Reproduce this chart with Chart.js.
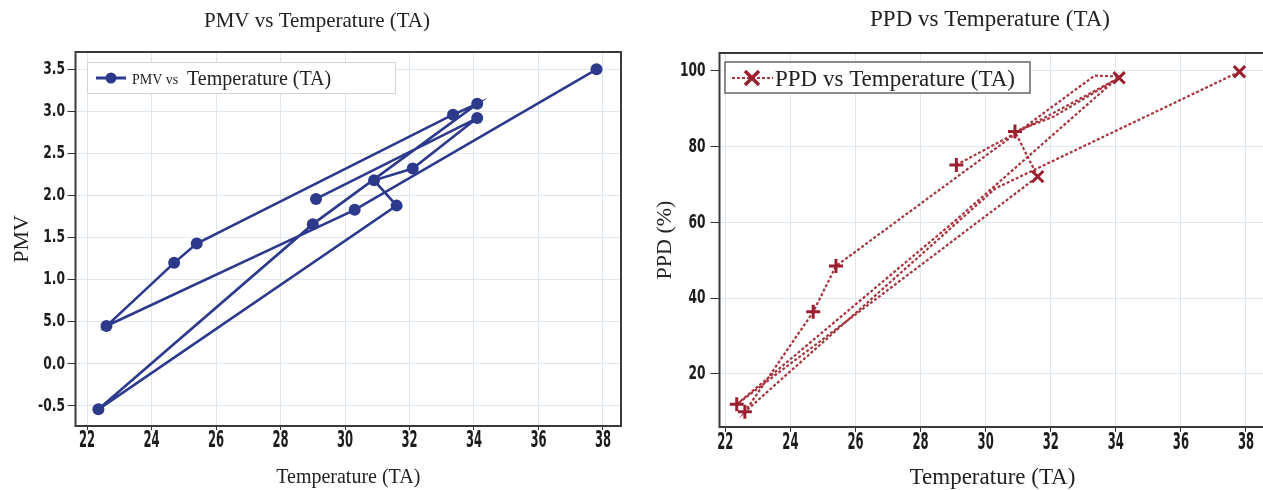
<!DOCTYPE html>
<html>
<head>
<meta charset="utf-8">
<script src="https://cdn.jsdelivr.net/npm/chart.js@4.4.1/dist/chart.umd.min.js"></script>
<style>
html, body { margin: 0; padding: 0; background: #fff; overflow: hidden; width: 1263px; height: 490px; }
#left { position: absolute; left: 0; top: 0; width: 640px; height: 490px; }
#right { position: absolute; left: 640px; top: 0; width: 700px; height: 490px; }
</style>
</head>
<body>
<div id="left"><canvas id="pmvChart"></canvas></div>
<div id="right"><canvas id="ppdChart"></canvas></div>
<script>
// values, in plotted order
const temps = [37.8, 30.3, 22.6, 24.7, 25.4, 33.35, 34.1, 29.0, 22.35, 31.6, 30.9, 32.1, 34.1, 29.1]
const pmv   = [3.5, 1.83, 0.45, 1.20, 1.43, 2.96, 3.09, 1.66, -0.54, 1.88, 2.18, 2.32, 2.92, 1.96]
const ppd   = [99.8, 69, 10, 36.4, 48.5, 98.8, 98.5, 60, 12, 72.1, 84, 88, 98.2, 75.2]

const tempTicks = [22, 24, 26, 28, 30, 32, 34, 36, 38]
const pmvTicks = [-0.5, 0, 0.5, 1, 1.5, 2, 2.5, 3, 3.5]
const ppdTicks = [20, 40, 60, 80, 100]

const navy = '#2d3a8c'
const red = '#a8343e'
const serif = "'Liberation Serif', 'DejaVu Serif', serif"
const narrow = "'DejaVu Sans Condensed', 'DejaVu Sans', sans-serif"
const gridColor = '#dfe7ee'

// which PPD points show a marker, and which glyph
const ppdRadius = [8, 0, 7, 7, 7, 0, 0, 0, 7, 8, 7, 0, 8, 7]
const ppdStyle = ['crossRot', 'cross', 'cross', 'cross', 'cross', 'cross', 'cross', 'cross', 'cross', 'crossRot', 'cross', 'cross', 'crossRot', 'cross']

const pmvLabel = v => v === 0.5 ? '5.0' : v.toFixed(1)   // the original prints 0.5 as "5.0"

const frame = {
  id: 'frame',
  afterDraw(chart) {
    const {ctx, chartArea: a} = chart
    ctx.save()
    ctx.strokeStyle = '#3a3a3a'
    ctx.lineWidth = 2
    ctx.strokeRect(a.left, a.top, a.right - a.left, a.bottom - a.top)
    ctx.restore()
  }
}

// chart heading, centred where the original puts it
const heading = {
  id: 'heading',
  afterDraw(chart, args, opts) {
    const ctx = chart.ctx
    ctx.save()
    ctx.fillStyle = '#222'
    ctx.font = opts.size + 'px ' + serif
    ctx.textAlign = 'center'
    ctx.textBaseline = 'middle'
    ctx.fillText(opts.text, opts.x, opts.y)
    ctx.restore()
  }
}

// the original tick numbers are tall and narrow: draw them squeezed
const tallTicks = {
  id: 'tallTicks',
  afterDraw(chart, args, o) {
    const ctx = chart.ctx
    const xs = chart.scales.x
    const ys = chart.scales.y
    ctx.save()
    ctx.fillStyle = '#1c1c1c'
    ctx.font = 'bold ' + o.xSize + 'px ' + narrow
    ctx.textAlign = 'center'
    ctx.textBaseline = 'top'
    xs.ticks.forEach(t => {
      ctx.save()
      ctx.translate(xs.getPixelForValue(t.value), xs.top + o.xGap)
      ctx.scale(o.xSqueeze, 1)
      ctx.fillText(o.xFormat(t.value), 0, 0)
      ctx.restore()
    })
    ctx.font = 'bold ' + o.ySize + 'px ' + narrow
    ctx.textAlign = 'right'
    ctx.textBaseline = 'middle'
    ys.ticks.forEach(t => {
      ctx.save()
      ctx.translate(o.yRight, ys.getPixelForValue(t.value))
      ctx.scale(o.ySqueeze, 1)
      ctx.fillText(o.yFormat(t.value), 0, 0)
      ctx.restore()
    })
    ctx.restore()
  }
}

const pmvLegend = {
  id: 'pmvLegend',
  afterDraw(chart) {
    const ctx = chart.ctx
    ctx.save()
    ctx.fillStyle = '#fff'
    ctx.fillRect(87, 62, 308, 31)
    ctx.strokeStyle = '#d0d4d8'
    ctx.lineWidth = 1
    ctx.strokeRect(87.5, 62.5, 308, 31)
    ctx.strokeStyle = navy
    ctx.lineWidth = 3
    ctx.beginPath(); ctx.moveTo(96, 78); ctx.lineTo(126, 78); ctx.stroke()
    ctx.fillStyle = navy
    ctx.beginPath(); ctx.arc(111, 78, 5.5, 0, Math.PI * 2); ctx.fill()
    ctx.fillStyle = '#222'
    ctx.font = '14px ' + serif
    ctx.fillText('PMV vs', 132, 84)
    ctx.font = '20px ' + serif
    ctx.fillText('Temperature (TA)', 187, 85)
    ctx.restore()
  }
}

const ppdLegend = {
  id: 'ppdLegend',
  afterDraw(chart) {
    const ctx = chart.ctx
    ctx.save()
    ctx.fillStyle = '#fff'
    ctx.fillRect(85, 62, 305, 31)
    ctx.strokeStyle = '#666'
    ctx.lineWidth = 1.5
    ctx.strokeRect(85, 62, 305, 31)
    ctx.strokeStyle = red
    ctx.lineWidth = 2
    ctx.setLineDash([3, 2])
    ctx.beginPath(); ctx.moveTo(92, 78); ctx.lineTo(133, 78); ctx.stroke()
    ctx.setLineDash([])
    ctx.strokeStyle = '#9a2030'
    ctx.lineWidth = 3.5
    ctx.beginPath()
    ctx.moveTo(105, 71); ctx.lineTo(119, 85)
    ctx.moveTo(119, 71); ctx.lineTo(105, 85)
    ctx.stroke()
    ctx.fillStyle = '#222'
    ctx.font = '23px ' + serif
    ctx.fillText('PPD vs Temperature (TA)', 135, 86)
    ctx.restore()
  }
}

function fixedTicks(list) {
  return scale => { scale.ticks = list.map(v => ({value: v})) }
}

Chart.defaults.devicePixelRatio = 1

new Chart(document.getElementById('pmvChart'), {
  type: 'scatter',
  data: {
    datasets: [{
      label: 'PMV vs Temperature (TA)',
      data: temps.map((t, i) => ({x: t, y: pmv[i]})),
      showLine: true,
      borderColor: navy,
      backgroundColor: navy,
      borderWidth: 2.6,
      pointRadius: 6,
      pointBorderWidth: 0
    }]
  },
  options: {
    responsive: true,
    maintainAspectRatio: false,
    animation: false,
    layout: {padding: {left: 0, right: 19, top: 52, bottom: 0}},
    plugins: {
      legend: {display: false},
      tooltip: {enabled: false},
      heading: {text: 'PMV vs Temperature (TA)', x: 317, y: 21, size: 21},
      tallTicks: {xSize: 23, xSqueeze: 0.56, xGap: 4, xFormat: v => String(v),
                  ySize: 18, ySqueeze: 0.76, yRight: 65, yFormat: pmvLabel}
    },
    scales: {
      x: {
        type: 'linear',
        min: 21.64,
        max: 38.56,
        afterBuildTicks: fixedTicks(tempTicks),
        afterFit: s => { s.height = 64 },
        grid: {color: gridColor, tickColor: '#333', tickLength: 4},
        border: {display: false},
        ticks: {display: false},
        title: {display: true, text: 'Temperature (TA)', color: '#222', font: {family: serif, size: 20}, padding: {top: 2, bottom: 0}}
      },
      y: {
        min: -0.738,
        max: 3.705,
        afterBuildTicks: fixedTicks(pmvTicks),
        afterFit: s => { s.width = 75.5 },
        grid: {color: gridColor, tickColor: '#333', tickLength: 8},
        border: {display: false},
        ticks: {display: false},
        title: {display: true, text: 'PMV', color: '#222', font: {family: serif, size: 22}, padding: {top: 9}}
      }
    }
  },
  plugins: [frame, heading, tallTicks, pmvLegend]
})

new Chart(document.getElementById('ppdChart'), {
  type: 'scatter',
  data: {
    datasets: [{
      label: 'PPD vs Temperature (TA)',
      data: temps.map((t, i) => ({x: t, y: ppd[i]})),
      showLine: true,
      borderColor: red,
      borderWidth: 2.2,
      borderDash: [3, 2],
      pointRadius: ppdRadius,
      pointStyle: ppdStyle,
      pointBorderColor: '#9a2030',
      pointBorderWidth: 3
    }]
  },
  options: {
    responsive: true,
    maintainAspectRatio: false,
    animation: false,
    layout: {padding: {left: 0, right: 74.5, top: 53, bottom: 0}},
    plugins: {
      legend: {display: false},
      tooltip: {enabled: false},
      heading: {text: 'PPD vs Temperature (TA)', x: 350, y: 20, size: 23},
      tallTicks: {xSize: 23, xSqueeze: 0.56, xGap: 5, xFormat: v => String(v),
                  ySize: 20, ySqueeze: 0.68, yRight: 65.5, yFormat: v => String(v)}
    },
    scales: {
      x: {
        type: 'linear',
        min: 21.82,
        max: 38.6,
        afterBuildTicks: fixedTicks(tempTicks),
        afterFit: s => { s.height = 63 },
        grid: {color: gridColor, tickColor: '#333', tickLength: 5},
        border: {display: false},
        ticks: {display: false},
        title: {display: true, text: 'Temperature (TA)', color: '#222', font: {family: serif, size: 23}, padding: {top: 0, bottom: -2}}
      },
      y: {
        min: 6,
        max: 104.75,
        afterBuildTicks: fixedTicks(ppdTicks),
        afterFit: s => { s.width = 79.5 },
        grid: {color: gridColor, tickColor: '#333', tickLength: 9},
        border: {display: false},
        ticks: {display: false},
        title: {display: true, text: 'PPD (%)', color: '#222', font: {family: serif, size: 22}, padding: {top: 12}}
      }
    }
  },
  plugins: [frame, heading, tallTicks, ppdLegend]
})
</script>
</body>
</html>
